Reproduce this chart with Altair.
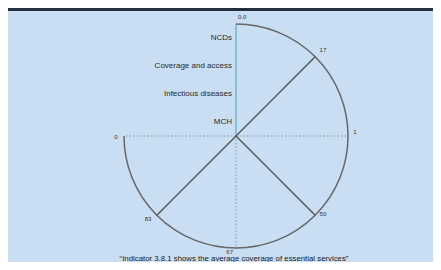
import altair as alt
import pandas as pd

# ---- data ----
scale_labels = ["0.0", "17", "1", "50", "67", "83", "0"]
scale_angles = [0, 45, 90, 135, 180, 225, 270]          # degrees, clockwise from top
needle_angles = [45, 135, 225]                          # solid spokes
grid_angles = [90, 180, 270]                            # dotted spokes
axis_angles = [0]                                       # teal category axis
categories = ["MCH", "Infectious diseases", "Coverage and access", "NCDs"]
caption = ["\u201cIndicator 3.8.1 shows the average coverage of essential services\u201d"]

# ---- layout ----
W, H = 425, 254
CX, CY, R = 228, 128, 112
x_scale = alt.Scale(domain=[-CX / R, (W - CX) / R], nice=False, zero=False)
y_scale = alt.Scale(domain=[-(H - CY) / R, CY / R], nice=False, zero=False)
FONT = "Liberation Sans"


def spokes(angles):
    return alt.Chart(pd.DataFrame({"angle": angles})).transform_calculate(
        cx="0", cy="0",
        ex="sin(datum.angle*PI/180)", ey="cos(datum.angle*PI/180)")


def enc_center():
    return dict(x=alt.X("cx:Q", scale=x_scale, axis=None),
                y=alt.Y("cy:Q", scale=y_scale, axis=None))


band = alt.Chart(pd.DataFrame({"a": [0]})).mark_rect(color="#22303e").encode(
    x=alt.value(0), x2=alt.value(W), y=alt.value(0), y2=alt.value(3))

grid = spokes(grid_angles).mark_rule(color="#8a96a3", strokeWidth=1,
                                     strokeDash=[1.5, 2]).encode(
    **enc_center(), x2="ex:Q", y2="ey:Q")

axis_line = spokes(axis_angles).mark_rule(color="#4f9bb5", strokeWidth=1).encode(
    **enc_center(), x2="ex:Q", y2="ey:Q")

needles = spokes(needle_angles).mark_rule(color="#555555", strokeWidth=1.4).encode(
    **enc_center(), x2="ex:Q", y2="ey:Q")

arc = alt.Chart(pd.DataFrame({"a": [0]})).transform_calculate(
    cx="0", cy="0").mark_arc(
    filled=False, stroke="#666666", strokeWidth=1.5,
    innerRadius=R, outerRadius=R, theta=0, theta2=4.71238898).encode(
    **enc_center())

tick_base = alt.Chart(pd.DataFrame({"label": scale_labels, "angle": scale_angles})).transform_calculate(
    tx="1.03*sin(datum.angle*PI/180)", ty="1.03*cos(datum.angle*PI/180)")
tick_enc = dict(x=alt.X("tx:Q", scale=x_scale, axis=None),
                y=alt.Y("ty:Q", scale=y_scale, axis=None),
                text="label:N")
ticks_right = tick_base.transform_filter("datum.angle < 180").mark_text(
    fontSize=6, font=FONT, color="#333333", align="left", dx=2, dy=-4).encode(**tick_enc)
ticks_left = tick_base.transform_filter("datum.angle >= 180").mark_text(
    fontSize=6, font=FONT, color="#333333", align="right", dx=-3, dy=1).encode(**tick_enc)

n = len(categories)
cat_df = pd.DataFrame({"cat": categories,
                       "r": [(i + 0.5) / n for i in range(n)]})
cat_labels = alt.Chart(cat_df).transform_calculate(cx="0").mark_text(
    fontSize=8, font=FONT, color="#2a2a2a", align="right", dx=-4).encode(
    x=alt.X("cx:Q", scale=x_scale, axis=None),
    y=alt.Y("r:Q", scale=y_scale, axis=None),
    text="cat:N")

cap = alt.Chart(pd.DataFrame({"t": caption})).mark_text(
    fontSize=7.8, font=FONT, color="#1a1a1a", align="center", baseline="middle").encode(
    x=alt.value(226), y=alt.value(251), text="t:N")

chart = alt.layer(band, grid, axis_line, needles, arc, ticks_right, ticks_left,
                  cat_labels, cap).properties(
    width=W, height=H,
    autosize=alt.AutoSizeParams(type="none"),
    padding=0,
    background="#c9def2",
).configure_view(stroke=None)

chart.save("out.html", embed_options={"renderer": "svg", "actions": False})
